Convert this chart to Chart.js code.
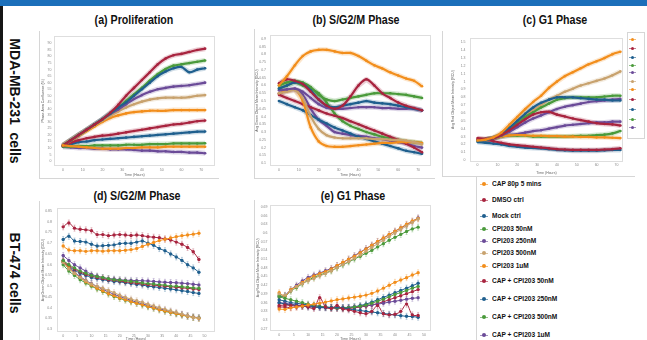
<!DOCTYPE html>
<html>
<head>
<meta charset="utf-8">
<script src="https://cdn.jsdelivr.net/npm/chart.js@4.4.1/dist/chart.umd.min.js"></script>
<style>
  html, body { margin: 0; padding: 0; background: #fff; }
  body { width: 647px; height: 340px; position: relative; overflow: hidden; font-family: "Liberation Sans", Arial, sans-serif; }
  .banner { position: absolute; left: 0; top: 0; width: 647px; height: 6px; background: #1b6fba; }
  .leftbar { position: absolute; left: 0; top: 6px; width: 3px; height: 334px; background: #161616; }
  .row { position: absolute; font-weight: bold; font-size: 14px; white-space: pre; color: #111; transform: translate(-50%, -50%) rotate(90deg); }
  .ttl { position: absolute; font-weight: bold; font-size: 13px; white-space: nowrap; transform: translateX(-50%) scaleX(0.82); color: #111; }
  .panel { position: absolute; border-left: 1px solid #d6d6d6; border-bottom: 1px solid #d6d6d6; }
  .panel canvas { display: block; }
  .hline { position: absolute; height: 1px; background: #d6d6d6; }
  .legend { position: absolute; left: 476px; top: 176px; width: 159px; height: 170px; border-left: 1px solid #d6d6d6; }
  .item { position: absolute; left: 0; height: 10px; font-weight: bold; font-size: 8px; line-height: 10px; color: #111; white-space: nowrap; transform: scaleX(0.82); transform-origin: left center; }
  .mk { position: absolute; width: 8px; height: 1px; opacity: 0.6; }
  .dot { position: absolute; width: 4px; height: 4px; border-radius: 50%; }
  .minileg { position: absolute; left: 627px; top: 32px; width: 16px; height: 105px; border: 1px solid #d6d6d6; }
</style>
</head>
<body>
<div class="banner"></div>
<div class="leftbar"></div>
<div class="row" style="left:15px; top:101px;">MDA-MB-231  cells</div>
<div class="row" style="left:15px; top:273px;">BT-474 cells</div>

<div class="ttl" style="left:134px; top:12px;">(a) Proliferation</div>
<div class="ttl" style="left:356px; top:12px;">(b) S/G2/M Phase</div>
<div class="ttl" style="left:555px; top:12px;">(c) G1 Phase</div>
<div class="ttl" style="left:137px; top:188px;">(d) S/G2/M Phase</div>
<div class="ttl" style="left:353px; top:188px;">(e) G1 Phase</div>

<div class="panel" style="left:39px; top:31px; width:179px; height:147px;"><canvas id="pa" width="179" height="147"></canvas></div>
<div class="panel" style="left:254px; top:29px; width:180px; height:149px;"><canvas id="pb" width="180" height="149"></canvas></div>
<div class="panel" style="left:442px; top:31px; width:184px; height:145px; border-bottom:none;"><canvas id="pc" width="184" height="145"></canvas></div>
<div class="panel" style="left:39px; top:201px; width:179px; height:145px; border-bottom:none;"><canvas id="pd" width="179" height="145"></canvas></div>
<div class="panel" style="left:254px; top:200px; width:180px; height:146px; border-bottom:none;"><canvas id="pe" width="180" height="146"></canvas></div>
<div class="hline" style="left:442px; top:176px; width:193px;"></div>
<div class="minileg" id="minileg"></div>
<div class="legend" id="legend"></div>

<script>
// Namen und Farben der 11 Behandlungen
const seriesNames = ['CAP 80p 5 mins', 'DMSO ctrl', 'Mock ctrl', 'CPI203 50nM', 'CPI203 250nM', 'CPI203 500nM', 'CPI203 1uM', 'CAP + CPI203 50nM', 'CAP + CPI203 250nM', 'CAP + CPI203 500nM', 'CAP + CPI203 1uM'];
const seriesColors = ['#f28e1c', '#a8243f', '#1f5f8e', '#4a9a3b', '#6b4b98', '#c8a26e', '#f28e1c', '#a8243f', '#1f5f8e', '#4a9a3b', '#6b4b98'];

// Zeitpunkte (Stunden)
const timeLong = [0, 4, 8, 12, 16, 20, 24, 28, 32, 36, 40, 44, 48, 52, 56, 60, 64, 68, 72];
const timeShort = [0, 2, 4, 6, 8, 10, 12, 14, 16, 18, 20, 22, 24, 26, 28, 30, 32, 34, 36, 38, 40, 42, 44, 46, 48];

// Achsenbeschriftungen
const xTicksLong = [0, 10, 20, 30, 40, 50, 60, 70];
const xTicksShort = [0, 5, 10, 15, 20, 25, 30, 35, 40, 45, 50];
const ticksA = [0, 5, 10, 15, 20, 25, 30, 35, 40, 45, 50, 55, 60, 65, 70, 75, 80, 85, 90];
const ticksB = [0.1, 0.15, 0.2, 0.25, 0.3, 0.35, 0.4, 0.45, 0.5, 0.55, 0.6, 0.65, 0.7, 0.75, 0.8, 0.85, 0.9];
const ticksC = [0, 0.1, 0.2, 0.3, 0.4, 0.5, 0.6, 0.7, 0.8, 0.9, 1, 1.1, 1.2, 1.3, 1.4, 1.5];
const ticksD = [0.3, 0.35, 0.4, 0.45, 0.5, 0.55, 0.6, 0.65, 0.7, 0.75, 0.8, 0.85];
const ticksE = [0.27, 0.3, 0.33, 0.36, 0.39, 0.42, 0.45, 0.48, 0.51, 0.54, 0.57, 0.6, 0.63, 0.66, 0.69];

// (a) Proliferation, MDA-MB-231, Reihenfolge wie seriesNames
const prolifA = [
  [12, 11.5, 11, 10.5, 10, 9.5, 9.5, 9.5, 10, 10, 10.5, 10.5, 10.5, 11, 11, 11, 11, 11, 11],
  [12, 16, 20, 24, 28, 32, 37, 43, 50, 56, 62, 68, 74, 78.5, 81, 82, 83.5, 85, 86],
  [12, 16, 20, 24, 28, 32, 36.5, 41, 45, 50, 55, 60, 65, 68.5, 71, 72, 68, 70, 71],
  [12, 16, 20, 24, 28, 32, 36.5, 41, 46, 51, 56, 61.5, 66.5, 70.5, 73, 74, 75, 76, 77],
  [12, 16, 20, 24, 28, 32, 36, 39.5, 43.5, 47.5, 50.5, 53, 55, 56, 57, 57.5, 58, 59, 60],
  [12, 16, 20, 24, 27.5, 31, 34.5, 38, 41, 43.5, 45.5, 47, 48, 48.5, 48.5, 48.5, 49, 50, 50.5],
  [12, 15.5, 19.5, 23, 26.5, 30, 33, 35, 36.5, 37.5, 38, 38.5, 38.5, 38.5, 39, 39, 39, 39, 39],
  [11.5, 14, 16, 17.5, 18.5, 19.5, 20, 21, 22, 23, 24, 25, 26, 27, 28, 28.5, 29.5, 30.5, 31],
  [11.5, 13, 14.5, 15, 16, 16.5, 17, 17.5, 18, 18.5, 19, 19.5, 20, 20.5, 21, 21.5, 22, 22.5, 22.6],
  [11, 11, 11.5, 11.5, 12, 12, 12, 12, 12.5, 12.5, 12.5, 13, 13, 13, 13.5, 13.5, 13.5, 13.5, 13.7],
  [11, 10.5, 10, 10, 9.5, 9.5, 9, 9, 9, 8.5, 8, 8, 7.5, 7.5, 7, 7, 6.5, 6.5, 6]
];

// (b) S/G2/M Phase, MDA-MB-231
const sphaseB = [
  [0.6, 0.66, 0.73, 0.79, 0.82, 0.83, 0.83, 0.82, 0.81, 0.81, 0.79, 0.76, 0.73, 0.71, 0.685, 0.665, 0.645, 0.63, 0.595],
  [0.615, 0.64, 0.63, 0.61, 0.56, 0.51, 0.47, 0.45, 0.47, 0.53, 0.6, 0.64, 0.6, 0.55, 0.52, 0.49, 0.47, 0.455, 0.44],
  [0.58, 0.6, 0.62, 0.61, 0.57, 0.51, 0.47, 0.46, 0.47, 0.48, 0.49, 0.5, 0.49, 0.485, 0.48, 0.47, 0.46, 0.45, 0.44],
  [0.6, 0.62, 0.63, 0.62, 0.59, 0.54, 0.51, 0.5, 0.51, 0.52, 0.53, 0.54, 0.55, 0.55, 0.55, 0.545, 0.54, 0.53, 0.52],
  [0.57, 0.575, 0.58, 0.56, 0.52, 0.48, 0.455, 0.45, 0.45, 0.455, 0.46, 0.46, 0.46, 0.455, 0.455, 0.45, 0.45, 0.45, 0.44],
  [0.55, 0.56, 0.57, 0.52, 0.4, 0.32, 0.28, 0.265, 0.26, 0.26, 0.26, 0.26, 0.255, 0.255, 0.25, 0.25, 0.245, 0.235, 0.22],
  [0.55, 0.565, 0.575, 0.5, 0.33, 0.24, 0.21, 0.205, 0.205, 0.21, 0.215, 0.22, 0.225, 0.23, 0.23, 0.235, 0.235, 0.235, 0.23],
  [0.54, 0.52, 0.5, 0.48, 0.46, 0.44, 0.42, 0.405, 0.39, 0.37, 0.35, 0.33, 0.31, 0.29, 0.27, 0.25, 0.225, 0.2, 0.17],
  [0.5, 0.48, 0.46, 0.44, 0.41, 0.38, 0.355, 0.33, 0.31, 0.29, 0.27, 0.255, 0.24, 0.225, 0.21, 0.195, 0.18, 0.17, 0.16],
  [0.58, 0.6, 0.62, 0.6, 0.58, 0.55, 0.49, 0.42, 0.37, 0.34, 0.32, 0.3, 0.285, 0.27, 0.26, 0.25, 0.24, 0.235, 0.23],
  [0.55, 0.565, 0.575, 0.54, 0.45, 0.38, 0.34, 0.3, 0.29, 0.28, 0.275, 0.27, 0.26, 0.255, 0.245, 0.235, 0.225, 0.21, 0.2]
];

// (c) G1 Phase, MDA-MB-231
const g1C = [
  [0.25, 0.26, 0.29, 0.35, 0.45, 0.55, 0.65, 0.74, 0.82, 0.92, 1.0, 1.07, 1.12, 1.17, 1.22, 1.26, 1.3, 1.35, 1.38],
  [0.27, 0.27, 0.28, 0.32, 0.38, 0.45, 0.52, 0.58, 0.61, 0.615, 0.58, 0.555, 0.53, 0.51, 0.49, 0.47, 0.46, 0.455, 0.44],
  [0.25, 0.26, 0.28, 0.33, 0.41, 0.5, 0.59, 0.67, 0.73, 0.77, 0.8, 0.8, 0.8, 0.79, 0.78, 0.77, 0.77, 0.76, 0.76],
  [0.25, 0.26, 0.28, 0.32, 0.39, 0.47, 0.55, 0.61, 0.67, 0.72, 0.77, 0.79, 0.8, 0.8, 0.8, 0.8, 0.81, 0.82, 0.82],
  [0.25, 0.26, 0.28, 0.31, 0.36, 0.42, 0.48, 0.53, 0.57, 0.61, 0.65, 0.68, 0.7, 0.72, 0.74, 0.75, 0.76, 0.77, 0.78],
  [0.25, 0.26, 0.28, 0.32, 0.4, 0.5, 0.58, 0.64, 0.7, 0.77, 0.82, 0.87, 0.91, 0.95, 0.98, 1.01, 1.04, 1.08, 1.13],
  [0.25, 0.26, 0.28, 0.3, 0.315, 0.32, 0.315, 0.31, 0.31, 0.305, 0.305, 0.3, 0.3, 0.295, 0.295, 0.29, 0.29, 0.285, 0.28],
  [0.28, 0.26, 0.24, 0.22, 0.2, 0.19, 0.18, 0.17, 0.16, 0.15, 0.14, 0.135, 0.13, 0.13, 0.13, 0.13, 0.135, 0.14, 0.15],
  [0.23, 0.22, 0.21, 0.2, 0.18, 0.17, 0.16, 0.155, 0.15, 0.14, 0.13, 0.125, 0.12, 0.12, 0.12, 0.12, 0.125, 0.13, 0.13],
  [0.25, 0.26, 0.28, 0.3, 0.31, 0.31, 0.31, 0.3, 0.3, 0.3, 0.3, 0.3, 0.305, 0.31, 0.31, 0.32, 0.325, 0.34, 0.37],
  [0.25, 0.26, 0.28, 0.3, 0.32, 0.33, 0.35, 0.37, 0.38, 0.4, 0.42, 0.44, 0.45, 0.46, 0.47, 0.48, 0.48, 0.49, 0.49]
];

// (d) S/G2/M Phase, BT-474
const sphaseD = [
  [0.687, 0.668, 0.665, 0.665, 0.662, 0.665, 0.665, 0.663, 0.665, 0.665, 0.665, 0.667, 0.67, 0.675, 0.685, 0.695, 0.703, 0.712, 0.718, 0.724, 0.73, 0.735, 0.738, 0.742, 0.746],
  [0.776, 0.794, 0.77, 0.765, 0.762, 0.758, 0.74, 0.74, 0.735, 0.738, 0.74, 0.738, 0.736, 0.738, 0.735, 0.73, 0.728, 0.725, 0.72, 0.715, 0.705, 0.695, 0.68, 0.66, 0.624],
  [0.717, 0.732, 0.71, 0.708, 0.705, 0.695, 0.687, 0.688, 0.69, 0.692, 0.698, 0.7, 0.7, 0.705, 0.71, 0.7, 0.69, 0.675, 0.665, 0.65, 0.636, 0.62, 0.6, 0.585, 0.565],
  [0.62, 0.6, 0.585, 0.57, 0.56, 0.55, 0.545, 0.54, 0.535, 0.53, 0.528, 0.525, 0.522, 0.52, 0.515, 0.512, 0.51, 0.507, 0.505, 0.5, 0.5, 0.497, 0.495, 0.492, 0.49],
  [0.643, 0.62, 0.6, 0.585, 0.57, 0.555, 0.547, 0.54, 0.535, 0.533, 0.53, 0.528, 0.527, 0.526, 0.525, 0.524, 0.522, 0.52, 0.518, 0.517, 0.516, 0.514, 0.512, 0.509, 0.506],
  [0.61, 0.58, 0.56, 0.54, 0.525, 0.51, 0.5, 0.49, 0.48, 0.47, 0.458, 0.448, 0.44, 0.432, 0.425, 0.416, 0.408, 0.4, 0.392, 0.385, 0.378, 0.37, 0.362, 0.355, 0.352],
  [0.615, 0.585, 0.56, 0.54, 0.52, 0.505, 0.49, 0.478, 0.465, 0.455, 0.445, 0.437, 0.428, 0.42, 0.413, 0.405, 0.398, 0.39, 0.384, 0.378, 0.372, 0.366, 0.36, 0.355, 0.35],
  [0.615, 0.595, 0.58, 0.566, 0.555, 0.547, 0.54, 0.535, 0.53, 0.527, 0.524, 0.52, 0.517, 0.514, 0.51, 0.507, 0.505, 0.502, 0.5, 0.497, 0.495, 0.492, 0.49, 0.487, 0.485],
  [0.61, 0.59, 0.575, 0.56, 0.55, 0.54, 0.535, 0.53, 0.526, 0.522, 0.52, 0.516, 0.512, 0.508, 0.505, 0.5, 0.497, 0.494, 0.49, 0.487, 0.483, 0.479, 0.475, 0.47, 0.466],
  [0.6, 0.57, 0.55, 0.53, 0.515, 0.5, 0.487, 0.475, 0.463, 0.452, 0.443, 0.435, 0.427, 0.42, 0.412, 0.404, 0.397, 0.39, 0.383, 0.377, 0.371, 0.365, 0.36, 0.355, 0.352],
  [0.62, 0.59, 0.565, 0.545, 0.527, 0.512, 0.498, 0.485, 0.473, 0.462, 0.452, 0.443, 0.434, 0.425, 0.418, 0.41, 0.402, 0.395, 0.388, 0.381, 0.374, 0.368, 0.362, 0.357, 0.353]
];

// (e) G1 Phase, BT-474
const g1E = [
  [0.338, 0.337, 0.342, 0.345, 0.348, 0.352, 0.355, 0.358, 0.362, 0.366, 0.37, 0.373, 0.376, 0.379, 0.382, 0.386, 0.392, 0.4, 0.41, 0.42, 0.43, 0.438, 0.446, 0.455, 0.463],
  [0.35, 0.352, 0.35, 0.348, 0.35, 0.345, 0.34, 0.377, 0.345, 0.34, 0.35, 0.338, 0.335, 0.33, 0.325, 0.322, 0.33, 0.35, 0.322, 0.318, 0.32, 0.33, 0.355, 0.318, 0.316],
  [0.36, 0.355, 0.352, 0.35, 0.348, 0.345, 0.345, 0.344, 0.343, 0.343, 0.345, 0.342, 0.338, 0.335, 0.333, 0.33, 0.328, 0.325, 0.323, 0.32, 0.318, 0.315, 0.313, 0.312, 0.31],
  [0.38, 0.375, 0.37, 0.365, 0.36, 0.355, 0.35, 0.347, 0.345, 0.343, 0.342, 0.342, 0.343, 0.345, 0.348, 0.352, 0.358, 0.365, 0.372, 0.38, 0.388, 0.395, 0.402, 0.41, 0.416],
  [0.36, 0.358, 0.355, 0.352, 0.35, 0.347, 0.345, 0.343, 0.342, 0.342, 0.342, 0.343, 0.344, 0.345, 0.347, 0.35, 0.352, 0.355, 0.358, 0.362, 0.365, 0.368, 0.372, 0.375, 0.377],
  [0.39, 0.385, 0.4, 0.415, 0.425, 0.435, 0.443, 0.452, 0.46, 0.469, 0.48, 0.491, 0.502, 0.513, 0.524, 0.537, 0.55, 0.563, 0.575, 0.588, 0.6, 0.612, 0.624, 0.636, 0.648],
  [0.394, 0.383, 0.405, 0.416, 0.43, 0.442, 0.452, 0.46, 0.467, 0.476, 0.488, 0.499, 0.51, 0.52, 0.532, 0.545, 0.558, 0.571, 0.583, 0.595, 0.606, 0.618, 0.63, 0.641, 0.65],
  [0.345, 0.345, 0.343, 0.345, 0.347, 0.35, 0.345, 0.345, 0.345, 0.342, 0.34, 0.34, 0.34, 0.342, 0.345, 0.348, 0.352, 0.357, 0.363, 0.37, 0.377, 0.384, 0.391, 0.398, 0.405],
  [0.37, 0.365, 0.36, 0.358, 0.355, 0.352, 0.35, 0.347, 0.345, 0.343, 0.342, 0.342, 0.343, 0.346, 0.35, 0.355, 0.362, 0.37, 0.378, 0.386, 0.394, 0.402, 0.41, 0.418, 0.427],
  [0.385, 0.382, 0.4, 0.412, 0.425, 0.437, 0.447, 0.455, 0.462, 0.47, 0.48, 0.49, 0.5, 0.51, 0.52, 0.53, 0.54, 0.552, 0.563, 0.575, 0.585, 0.595, 0.605, 0.614, 0.62],
  [0.38, 0.385, 0.405, 0.42, 0.435, 0.447, 0.455, 0.462, 0.47, 0.478, 0.488, 0.498, 0.51, 0.522, 0.534, 0.546, 0.558, 0.57, 0.582, 0.594, 0.606, 0.617, 0.628, 0.64, 0.652]
];

const greenTitle = 'Avg Green Object Mean Intensity (GCU)';
const redTitle = 'Avg Red Object Mean Intensity (RCU)';

// Layout der einzelnen Diagramme
const panels = [
  {id: 'pa', rows: prolifA, time: timeLong, xTicks: xTicksLong, yTicks: ticksA, xMin: -4.5, xMax: 77, yMin: -3.75, yMax: 96,
   yW: 14, xH: 12, padTop: 2, padRight: 2, yTitle: 'Phase Area Confluence (%)', yTitlePad: 0.9, yTickPad: 2.5, xTitlePad: 1, dense: true},
  {id: 'pb', rows: sphaseB, time: timeLong, xTicks: xTicksLong, yTicks: ticksB, xMin: -4.5, xMax: 76.5, yMin: 0.0814, yMax: 0.925,
   yW: 15, xH: 12, padTop: 1, padRight: 3, yTitle: greenTitle, yTitlePad: 0.4, yTickPad: 4, xTitlePad: 1, dense: true},
  {id: 'pc', rows: g1C, time: timeLong, xTicks: xTicksLong, yTicks: ticksC, xMin: -3.83, xMax: 73.3, yMin: -0.018, yMax: 1.561,
   yW: 27, xH: 14.5, padTop: 1, padRight: 2, yTitle: redTitle, yTitlePad: 7.9, yTickPad: 4.5, xTitlePad: 1.2, dense: true},
  {id: 'pd', rows: sphaseD, time: timeShort, xTicks: xTicksShort, yTicks: ticksD, xMin: -2.19, xMax: 53.7, yMin: 0.2867, yMax: 0.8633,
   yW: 17, xH: 14, padTop: 1, padRight: 1, yTitle: greenTitle, yTitlePad: 0.9, yTickPad: 5, xTitlePad: 5, dense: false},
  {id: 'pe', rows: g1E, time: timeShort, xTicks: xTicksShort, yTicks: ticksE, xMin: -3.17, xMax: 52.45, yMin: 0.2624, yMax: 0.6977,
   yW: 15, xH: 15, padTop: 1, padRight: 2, yTitle: redTitle, yTitlePad: 0.6, yTickPad: 2.5, xTitlePad: 5, dense: false}
];

// Rahmen um die Plotfläche
const framePlugin = {
  id: 'frame',
  beforeDatasetsDraw(chart) {
    const a = chart.chartArea;
    const ctx = chart.ctx;
    ctx.save();
    ctx.strokeStyle = '#dedede';
    ctx.lineWidth = 1;
    ctx.strokeRect(Math.round(a.left) + 0.5, Math.round(a.top) + 0.5, Math.round(a.right - a.left) - 1, Math.round(a.bottom - a.top) - 1);
    ctx.restore();
  }
};

// kurze Fehlerbalken an den Punkten (nur Optik, feste Pixellänge)
const whiskerPlugin = {
  id: 'whisker',
  beforeDatasetsDraw(chart) {
    const ctx = chart.ctx;
    ctx.save();
    ctx.lineWidth = 0.8;
    ctx.globalAlpha = 0.35;
    chart.data.datasets.forEach((ds, i) => {
      ctx.strokeStyle = ds.borderColor;
      chart.getDatasetMeta(i).data.forEach(pt => {
        ctx.beginPath();
        ctx.moveTo(pt.x, pt.y - 3);
        ctx.lineTo(pt.x, pt.y + 3);
        ctx.moveTo(pt.x - 1, pt.y - 3);
        ctx.lineTo(pt.x + 1, pt.y - 3);
        ctx.moveTo(pt.x - 1, pt.y + 3);
        ctx.lineTo(pt.x + 1, pt.y + 3);
        ctx.stroke();
      });
    });
    ctx.restore();
  }
};

// heller Saum um die dichten Kurven
const haloPlugin = {
  id: 'halo',
  beforeDatasetsDraw(chart) {
    const ctx = chart.ctx;
    const a = chart.chartArea;
    ctx.save();
    ctx.beginPath();
    ctx.rect(a.left, a.top, a.right - a.left, a.bottom - a.top);
    ctx.clip();
    ctx.lineWidth = 5;
    ctx.globalAlpha = 0.22;
    ctx.lineJoin = 'round';
    chart.data.datasets.forEach((ds, i) => {
      const pts = chart.getDatasetMeta(i).data;
      ctx.strokeStyle = ds.borderColor;
      ctx.beginPath();
      pts.forEach((pt, k) => { if (k === 0) ctx.moveTo(pt.x, pt.y); else ctx.lineTo(pt.x, pt.y); });
      ctx.stroke();
    });
    ctx.restore();
  }
};

function makePanel(p) {
  const datasets = p.rows.map((vals, i) => ({
    label: seriesNames[i],
    data: vals.map((v, k) => ({x: p.time[k], y: v})),
    borderColor: seriesColors[i],
    backgroundColor: seriesColors[i],
    borderWidth: p.dense ? 2.2 : 1,
    pointRadius: p.dense ? 1.3 : 1.7,
    pointBorderWidth: 0,
    tension: 0.35,
    fill: false
  }));
  const tickFont = {family: 'Liberation Sans', size: 3.5};
  new Chart(document.getElementById(p.id), {
    type: 'line',
    data: {datasets: datasets},
    plugins: [framePlugin, p.dense ? haloPlugin : whiskerPlugin],
    options: {
      responsive: false,
      animation: false,
      events: [],
      layout: {padding: {top: p.padTop, right: p.padRight, left: 0, bottom: 0}},
      plugins: {legend: {display: false}, tooltip: {enabled: false}},
      scales: {
        x: {
          type: 'linear', min: p.xMin, max: p.xMax,
          grid: {display: false, drawTicks: false}, border: {display: false},
          ticks: {font: tickFont, color: '#888', padding: 1.5, maxRotation: 0, autoSkip: false, callback: v => String(v)},
          afterBuildTicks: s => { s.ticks = p.xTicks.map(v => ({value: v})); },
          afterFit: s => { s.height = p.xH; },
          title: {display: true, text: 'Time (Hours)', font: tickFont, color: '#666', padding: {top: 0, bottom: p.xTitlePad}}
        },
        y: {
          type: 'linear', min: p.yMin, max: p.yMax,
          grid: {display: false, drawTicks: false}, border: {display: false},
          ticks: {font: tickFont, color: '#888', padding: p.yTickPad, autoSkip: false, callback: v => String(v)},
          afterBuildTicks: s => { s.ticks = p.yTicks.map(v => ({value: v})); },
          afterFit: s => { s.width = p.yW; },
          title: {display: true, text: p.yTitle, font: tickFont, color: '#555', padding: {top: p.yTitlePad, bottom: 0}}
        }
      }
    }
  });
}

panels.forEach(makePanel);

// Legende unten rechts
const legendTops = [184, 200, 216, 229, 241, 253, 266, 281, 299, 317, 335];
const legend = document.getElementById('legend');
seriesNames.forEach((name, i) => {
  const y = legendTops[i] - 176;
  const line = document.createElement('div');
  line.className = 'mk';
  line.style.cssText = `left:3px; top:${y}px; background:${seriesColors[i]};`;
  const dot = document.createElement('div');
  dot.className = 'dot';
  dot.style.cssText = `left:5px; top:${y - 2}px; background:${seriesColors[i]};`;
  const txt = document.createElement('div');
  txt.className = 'item';
  txt.style.cssText = `left:15px; top:${y - 5}px;`;
  txt.textContent = name;
  legend.appendChild(line);
  legend.appendChild(dot);
  legend.appendChild(txt);
});

// kleine, abgeschnittene Legende neben (c)
const miniTops = [39, 48, 57, 65, 72, 81, 89, 99, 109, 119, 127];
const mini = document.getElementById('minileg');
seriesColors.forEach((c, i) => {
  const y = miniTops[i] - 33;
  const line = document.createElement('div');
  line.className = 'mk';
  line.style.cssText = `left:1px; top:${y}px; width:7px; background:${c};`;
  const dot = document.createElement('div');
  dot.className = 'dot';
  dot.style.cssText = `left:3px; top:${y - 1}px; width:3px; height:3px; background:${c};`;
  mini.appendChild(line);
  mini.appendChild(dot);
});
</script>
</body>
</html>
